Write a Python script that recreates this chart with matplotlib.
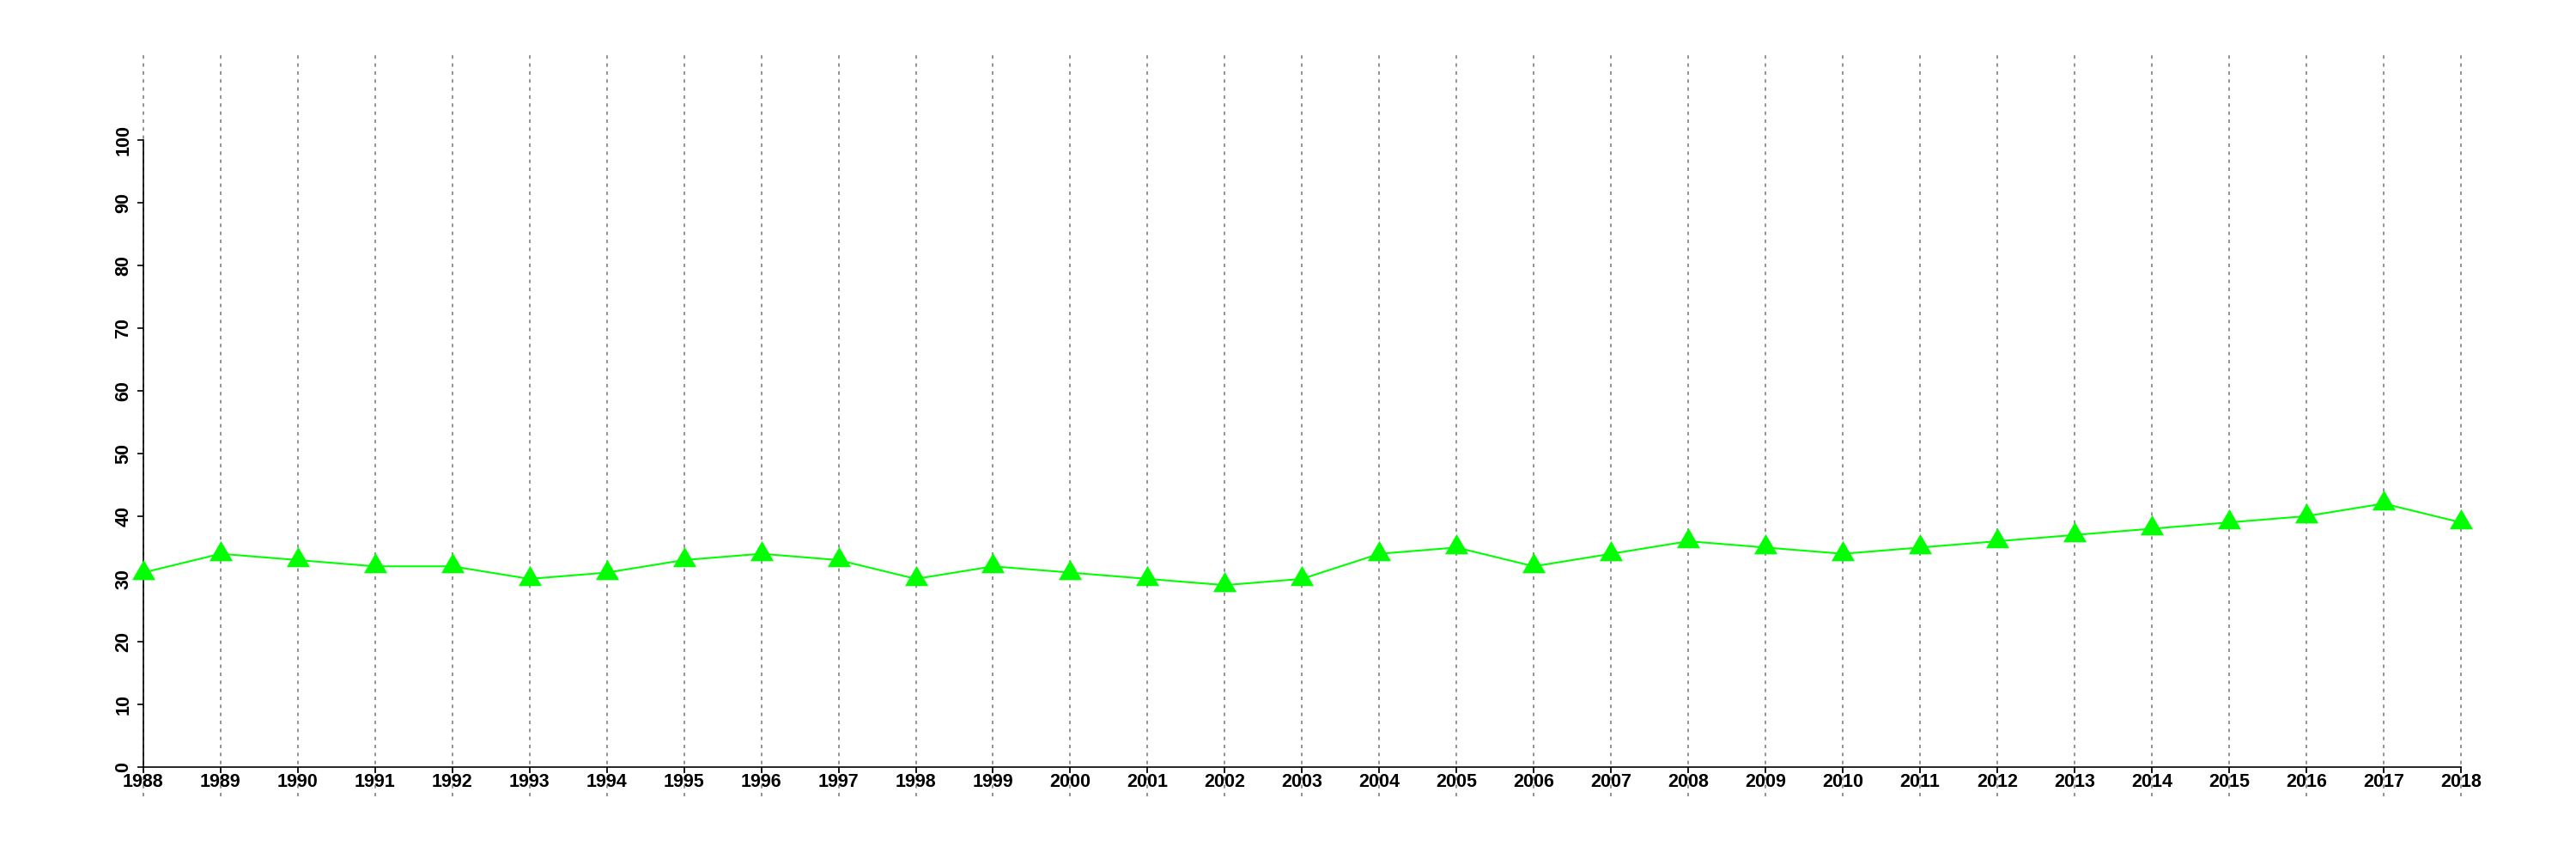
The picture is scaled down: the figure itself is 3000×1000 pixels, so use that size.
import matplotlib
matplotlib.use("Agg")
import matplotlib.pyplot as plt

years = list(range(1988, 2019))
values = [31, 34, 33, 32, 32, 30, 31, 33, 34, 33, 30, 32, 31, 30, 29, 30,
          34, 35, 32, 34, 36, 35, 34, 35, 36, 37, 38, 39, 40, 42, 39]
yticks = list(range(0, 101, 10))

plt.rcParams['font.family'] = ['Liberation Sans', 'DejaVu Sans']

fig = plt.figure(figsize=(30, 10), dpi=100)
ax = fig.add_axes([0.0556, 0.073, 0.8997, 0.868])

for yr in years:
    ax.axvline(yr, 0, 1, color='#808080', lw=1.2, linestyle=(0, (2.4, 3.2)),
               clip_on=False, zorder=1)

tri = [(-1, -0.577), (1, -0.577), (0, 1.155)]
ax.plot(years, values, color='#00FF00', lw=1.5, marker=tri, markersize=22.5,
        markeredgewidth=0, markerfacecolor='#00FF00', zorder=3, clip_on=False)

ax.set_xlim(1988, 2018)
ax.set_ylim(-4.66, 114.2)
ax.set_xticks(years)
ax.set_yticks(yticks)

for s in ['top', 'right']:
    ax.spines[s].set_visible(False)
ax.spines['bottom'].set_position(('data', 0))
ax.spines['bottom'].set_bounds(1988, 2018)
ax.spines['left'].set_bounds(0, 100)
for s in ['bottom', 'left']:
    ax.spines[s].set_linewidth(1.2)
    ax.spines[s].set_zorder(2)

ax.tick_params(axis='both', length=5.3, width=1.2, labelsize=15.5, color='black')
ax.tick_params(axis='x', pad=0)
ax.tick_params(axis='y', pad=3.5)
for lab in ax.get_xticklabels():
    lab.set_fontweight('bold')
for lab in ax.get_yticklabels():
    lab.set_fontweight('bold')
    lab.set_rotation(90)
    lab.set_va('center')

fig.savefig('out.png', dpi=100, facecolor='white')
